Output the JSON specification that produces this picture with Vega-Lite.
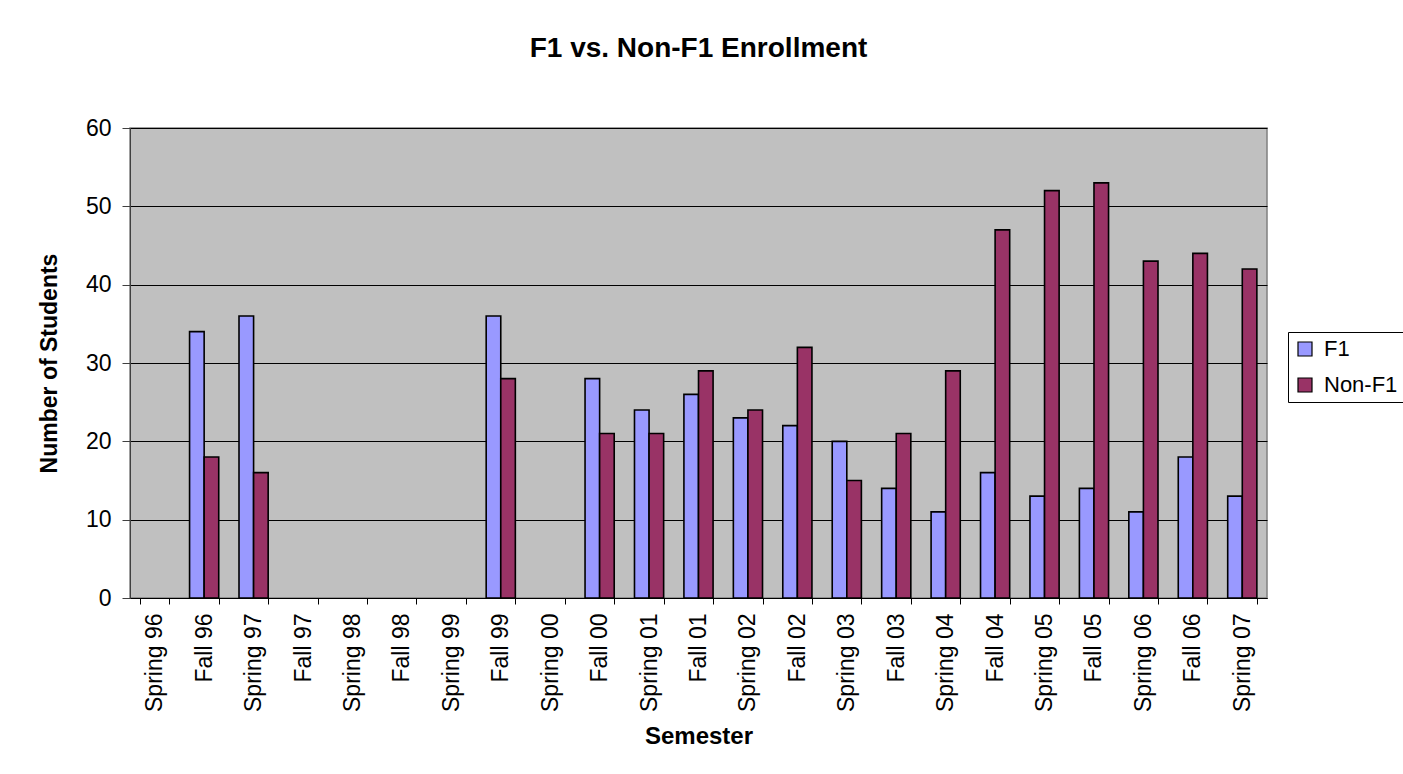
{
  "$schema": "https://vega.github.io/schema/vega-lite/v6.json",
  "width": 1137,
  "height": 470,
  "autosize": {"type": "none"},
  "padding": {"left": 130, "top": 128, "right": 136, "bottom": 176},
  "background": "white",
  "title": {
    "text": "F1 vs. Non-F1 Enrollment",
    "font": "Liberation Sans",
    "fontSize": 28,
    "fontWeight": "bold",
    "color": "black",
    "anchor": "middle",
    "baseline": "alphabetic",
    "offset": 32
  },
  "data": {
    "values": [
      {"semester": "Fall 96", "series": "F1", "students": 34},
      {"semester": "Fall 96", "series": "Non-F1", "students": 18},
      {"semester": "Spring 97", "series": "F1", "students": 36},
      {"semester": "Spring 97", "series": "Non-F1", "students": 16},
      {"semester": "Fall 99", "series": "F1", "students": 36},
      {"semester": "Fall 99", "series": "Non-F1", "students": 28},
      {"semester": "Fall 00", "series": "F1", "students": 28},
      {"semester": "Fall 00", "series": "Non-F1", "students": 21},
      {"semester": "Spring 01", "series": "F1", "students": 24},
      {"semester": "Spring 01", "series": "Non-F1", "students": 21},
      {"semester": "Fall 01", "series": "F1", "students": 26},
      {"semester": "Fall 01", "series": "Non-F1", "students": 29},
      {"semester": "Spring 02", "series": "F1", "students": 23},
      {"semester": "Spring 02", "series": "Non-F1", "students": 24},
      {"semester": "Fall 02", "series": "F1", "students": 22},
      {"semester": "Fall 02", "series": "Non-F1", "students": 32},
      {"semester": "Spring 03", "series": "F1", "students": 20},
      {"semester": "Spring 03", "series": "Non-F1", "students": 15},
      {"semester": "Fall 03", "series": "F1", "students": 14},
      {"semester": "Fall 03", "series": "Non-F1", "students": 21},
      {"semester": "Spring 04", "series": "F1", "students": 11},
      {"semester": "Spring 04", "series": "Non-F1", "students": 29},
      {"semester": "Fall 04", "series": "F1", "students": 16},
      {"semester": "Fall 04", "series": "Non-F1", "students": 47},
      {"semester": "Spring 05", "series": "F1", "students": 13},
      {"semester": "Spring 05", "series": "Non-F1", "students": 52},
      {"semester": "Fall 05", "series": "F1", "students": 14},
      {"semester": "Fall 05", "series": "Non-F1", "students": 53},
      {"semester": "Spring 06", "series": "F1", "students": 11},
      {"semester": "Spring 06", "series": "Non-F1", "students": 43},
      {"semester": "Fall 06", "series": "F1", "students": 18},
      {"semester": "Fall 06", "series": "Non-F1", "students": 44},
      {"semester": "Spring 07", "series": "F1", "students": 13},
      {"semester": "Spring 07", "series": "Non-F1", "students": 42}
    ]
  },
  "mark": {"type": "bar", "stroke": "black", "strokeWidth": 1.6},
  "encoding": {
    "x": {
      "field": "semester",
      "type": "nominal",
      "scale": {
        "domain": ["Spring 96", "Fall 96", "Spring 97", "Fall 97", "Spring 98", "Fall 98", "Spring 99", "Fall 99", "Spring 00", "Fall 00", "Spring 01", "Fall 01", "Spring 02", "Fall 02", "Spring 03", "Fall 03", "Spring 04", "Fall 04", "Spring 05", "Fall 05", "Spring 06", "Fall 06", "Spring 07"],
        "paddingInner": 0.41,
        "paddingOuter": 0.205
      },
      "axis": {
        "title": "Semester",
        "titleFont": "Liberation Sans",
        "titleFontSize": 24,
        "titleFontWeight": "bold",
        "titleColor": "black",
        "titlePadding": 13,
        "labelAngle": -90,
        "labelAlign": "right",
        "labelBaseline": "middle",
        "labelFont": "Liberation Sans",
        "labelFontSize": 23,
        "labelColor": "black",
        "labelPadding": 9,
        "tickBand": "extent",
        "tickSize": 6,
        "tickColor": "black",
        "domainColor": "black",
        "grid": false
      }
    },
    "xOffset": {
      "field": "series",
      "type": "nominal",
      "scale": {"paddingInner": 0, "paddingOuter": 0}
    },
    "y": {
      "field": "students",
      "type": "quantitative",
      "scale": {"domain": [0, 60]},
      "axis": {
        "title": "Number of Students",
        "titleFont": "Liberation Sans",
        "titleFontSize": 23,
        "titleFontWeight": "bold",
        "titleColor": "black",
        "titlePadding": 24,
        "values": [0, 10, 20, 30, 40, 50, 60],
        "labelFont": "Liberation Sans",
        "labelFontSize": 23,
        "labelColor": "black",
        "labelPadding": 11,
        "tickSize": 8,
        "tickColor": "#404040",
        "domainColor": "#404040",
        "grid": true,
        "gridColor": "black",
        "gridWidth": 1
      }
    },
    "color": {
      "field": "series",
      "type": "nominal",
      "scale": {"domain": ["F1", "Non-F1"], "range": ["#9999FF", "#993366"]},
      "legend": {
        "title": null,
        "orient": "none",
        "legendX": 1158,
        "legendY": 204,
        "strokeColor": "black",
        "fillColor": "white",
        "padding": 6,
        "symbolType": "square",
        "symbolSize": 196,
        "symbolStrokeColor": "black",
        "symbolStrokeWidth": 1.2,
        "labelFont": "Liberation Sans",
        "labelFontSize": 22,
        "labelColor": "black",
        "rowPadding": 14,
        "labelOffset": 8
      }
    }
  },
  "config": {
    "view": {"fill": "#C0C0C0", "stroke": "#808080", "strokeWidth": 1.5}
  }
}
